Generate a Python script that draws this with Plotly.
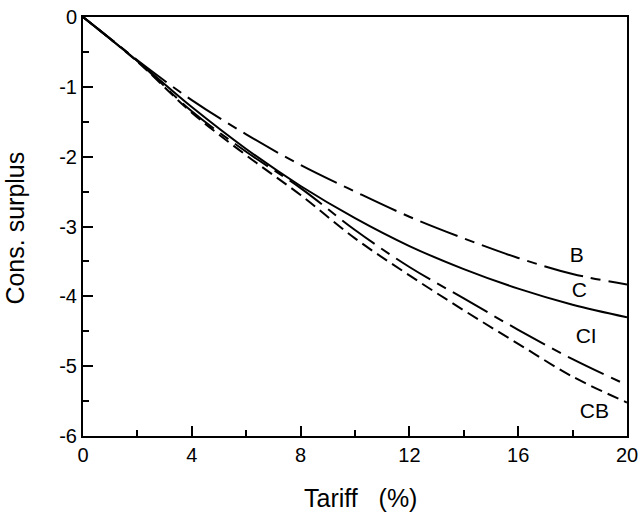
import plotly.graph_objects as go

tariff = [0, 2, 4, 6, 8, 10, 12, 14, 16, 18, 20]
B = [0, -0.62, -1.19, -1.68, -2.12, -2.50, -2.86, -3.17, -3.45, -3.68, -3.83]
C = [0, -0.63, -1.29, -1.89, -2.42, -2.88, -3.28, -3.61, -3.89, -4.12, -4.30]
CI = [0, -0.63, -1.35, -1.93, -2.45, -3.05, -3.58, -4.03, -4.48, -4.90, -5.27]
CB = [0, -0.64, -1.37, -1.98, -2.55, -3.17, -3.70, -4.20, -4.68, -5.15, -5.52]

x_ticks = [0, 4, 8, 12, 16, 20]
x_ticktext = ["0", "4", "8", "12", "16", "20"]
y_ticks = [0, -1, -2, -3, -4, -5, -6]
y_ticktext = ["0", "-1", "-2", "-3", "-4", "-5", "-6"]

labels = ["B", "C", "CI", "CB"]
label_x = [18.15, 18.25, 18.5, 18.8]
label_y = [-3.43, -3.93, -4.60, -5.66]

x_title = "Tariff   (%)"
y_title = "Cons. surplus"

fig = go.Figure()
styles = [
    (B, "40px,8px,10px,8px"),
    (C, "solid"),
    (CI, "40px,8px,10px,8px"),
    (CB, "12px,6px"),
]
for ys, dash in styles:
    fig.add_trace(go.Scatter(x=tariff, y=ys, mode="lines",
                             line=dict(color="black", width=2, dash=dash, shape="spline"),
                             showlegend=False, hoverinfo="skip"))

fig.add_trace(go.Scatter(x=label_x, y=label_y, mode="text", text=labels,
                         textfont=dict(family="Liberation Sans", size=21, color="black"),
                         showlegend=False, hoverinfo="skip"))

tick_font = dict(family="Liberation Sans", size=20, color="black")
title_font = dict(family="Liberation Sans", size=25, color="black")

fig.add_annotation(text=x_title, xref="paper", yref="paper", x=0.511, y=-0.148,
                   xanchor="center", yanchor="middle", showarrow=False, font=title_font)
fig.add_annotation(text=y_title, xref="paper", yref="paper", x=-0.125, y=0.495,
                   xanchor="center", yanchor="middle", showarrow=False, textangle=-90,
                   font=title_font)

fig.update_layout(
    width=644, height=516,
    margin=dict(l=83, r=17, t=17, b=80),
    paper_bgcolor="white", plot_bgcolor="white",
    font=tick_font,
    xaxis=dict(range=[0, 20], tickvals=x_ticks, ticktext=x_ticktext, tickfont=tick_font,
               ticks="inside", ticklen=10, tickwidth=1.5, tickcolor="black",
               minor=dict(tickvals=[2, 6, 10, 14, 18], ticks="inside", ticklen=6, tickwidth=1.5, tickcolor="black"),
               showgrid=False, zeroline=False, showline=True, linecolor="black", linewidth=2,
               mirror=True, automargin=False),
    yaxis=dict(range=[-6, 0], tickvals=y_ticks, ticktext=y_ticktext, tickfont=tick_font,
               ticks="inside", ticklen=10, tickwidth=1.5, tickcolor="black",
               minor=dict(tickvals=[-0.5, -1.5, -2.5, -3.5, -4.5, -5.5], ticks="inside", ticklen=6, tickwidth=1.5, tickcolor="black"),
               showgrid=False, zeroline=False, showline=True, linecolor="black", linewidth=2,
               mirror=True, automargin=False),
)

fig.write_html("out.html")
